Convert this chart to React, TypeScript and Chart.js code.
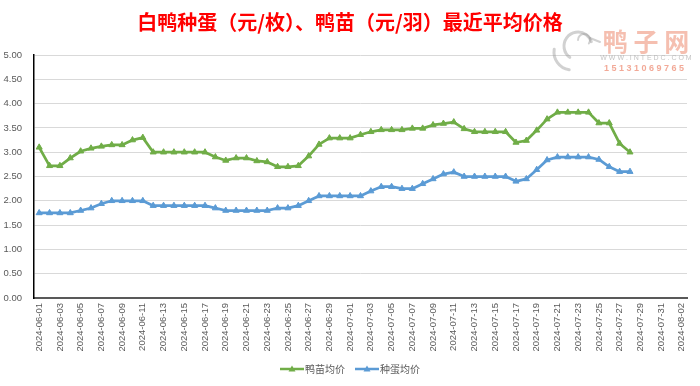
import React, { useEffect, useRef } from "react";
import { Chart, registerables } from "chart.js";

Chart.register(...registerables);

const TITLE = "白鸭种蛋（元/枚）、鸭苗（元/羽）最近平均价格";

const categories = [
  "2024-06-01", "2024-06-02", "2024-06-03", "2024-06-04", "2024-06-05", "2024-06-06", "2024-06-07", "2024-06-08",
  "2024-06-09", "2024-06-10", "2024-06-11", "2024-06-12", "2024-06-13", "2024-06-14", "2024-06-15", "2024-06-16",
  "2024-06-17", "2024-06-18", "2024-06-19", "2024-06-20", "2024-06-21", "2024-06-22", "2024-06-23", "2024-06-24",
  "2024-06-25", "2024-06-26", "2024-06-27", "2024-06-28", "2024-06-29", "2024-06-30",
  "2024-07-01", "2024-07-02", "2024-07-03", "2024-07-04", "2024-07-05", "2024-07-06", "2024-07-07", "2024-07-08",
  "2024-07-09", "2024-07-10", "2024-07-11", "2024-07-12", "2024-07-13", "2024-07-14", "2024-07-15", "2024-07-16",
  "2024-07-17", "2024-07-18", "2024-07-19", "2024-07-20", "2024-07-21", "2024-07-22", "2024-07-23", "2024-07-24",
  "2024-07-25", "2024-07-26", "2024-07-27", "2024-07-28", "2024-07-29", "2024-07-30", "2024-07-31",
  "2024-08-01", "2024-08-02",
];

const ducklingLabel = "鸭苗均价";
const ducklingPrice = [
  3.10, 2.72, 2.72, 2.88, 3.02, 3.08, 3.12, 3.15, 3.15, 3.25,
  3.30, 3.00, 3.00, 3.00, 3.00, 3.00, 3.00, 2.90, 2.83, 2.88,
  2.88, 2.82, 2.80, 2.70, 2.70, 2.72, 2.92, 3.16, 3.29, 3.29,
  3.29, 3.36, 3.42, 3.46, 3.46, 3.46, 3.49, 3.49, 3.56, 3.59,
  3.62, 3.48, 3.42, 3.42, 3.42, 3.42, 3.20, 3.24, 3.45, 3.68,
  3.82, 3.82, 3.82, 3.82, 3.60, 3.60, 3.18, 3.00,
];

const eggLabel = "种蛋均价";
const eggPrice = [
  1.75, 1.75, 1.75, 1.75, 1.80, 1.85, 1.94, 2.00, 2.00, 2.00,
  2.00, 1.90, 1.90, 1.90, 1.90, 1.90, 1.90, 1.85, 1.80, 1.80,
  1.80, 1.80, 1.80, 1.85, 1.85, 1.90, 2.00, 2.10, 2.10, 2.10,
  2.10, 2.10, 2.20, 2.29, 2.29, 2.25, 2.25, 2.35, 2.45, 2.55,
  2.59, 2.50, 2.50, 2.50, 2.50, 2.50, 2.40, 2.45, 2.64, 2.84,
  2.90, 2.90, 2.90, 2.90, 2.85, 2.70, 2.60, 2.60,
];

const GREEN = "#70ad47";
const BLUE = "#5b9bd5";
const TEXT = "#595959";
const CJK = '"Noto Sans CJK SC", "Noto Sans", sans-serif';
const NUM = '"Liberation Sans", Arial, sans-serif';

const titlePlugin = {
  id: "titleDraw",
  afterDraw(chart: any) {
    const ctx = chart.ctx;
    ctx.save();
    ctx.fillStyle = "#ff0000";
    ctx.font = `bold 20px ${CJK}`;
    ctx.textAlign = "center";
    ctx.textBaseline = "middle";
    ctx.fillText(TITLE, chart.width / 2, 22);
    ctx.restore();
  },
};

const watermarkPlugin = {
  id: "watermark",
  afterDraw(chart: any) {
    const ctx = chart.ctx;
    ctx.save();
    // faint duck logo
    ctx.globalAlpha = 0.45;
    ctx.strokeStyle = "#9a9a9a";
    ctx.lineWidth = 3;
    ctx.lineCap = "round";
    ctx.beginPath();
    ctx.arc(578, 46, 14, Math.PI * 0.7, Math.PI * 1.9);
    ctx.stroke();
    ctx.beginPath();
    ctx.arc(572, 52, 18, Math.PI * 0.55, Math.PI * 1.05);
    ctx.stroke();
    ctx.lineWidth = 2;
    ctx.beginPath();
    ctx.arc(584, 40, 6, Math.PI * 1.0, Math.PI * 2.2);
    ctx.stroke();
    ctx.beginPath();
    ctx.moveTo(590, 38);
    ctx.lineTo(600, 42);
    ctx.stroke();
    // text
    ctx.globalAlpha = 0.75;
    ctx.fillStyle = "#f2a995";
    ctx.font = `bold 25px ${CJK}`;
    ctx.textAlign = "center";
    ctx.textBaseline = "middle";
    ctx.fillText("鸭 子 网", 646, 41);
    ctx.font = `7px ${NUM}`;
    ctx.fillStyle = "#b0b0b0";
    ctx.fillText("W W W . I N T E D C . C O M", 646, 58);
    ctx.font = `bold 9px ${NUM}`;
    ctx.fillStyle = "#ee8c74";
    ctx.fillText("1 5 1 3 1 0 6 9 7 6 5", 644, 69);
    ctx.restore();
  },
};

const legendPlugin = {
  id: "legendDraw",
  afterDraw(chart: any) {
    const ctx = chart.ctx;
    ctx.save();
    ctx.font = `10px ${CJK}`;
    ctx.textBaseline = "middle";
    const lineW = 24;
    const gap = 10;
    const items = chart.data.datasets.map((d: any) => ({
      label: d.label,
      color: d.borderColor,
      w: lineW + 1 + ctx.measureText(d.label).width,
    }));
    const total = items.reduce((s: number, it: any) => s + it.w, 0) + gap * (items.length - 1);
    let x = chart.width / 2 - total / 2;
    const y = 369;
    items.forEach((it: any) => {
      ctx.strokeStyle = it.color;
      ctx.lineWidth = 2.5;
      ctx.beginPath();
      ctx.moveTo(x, y);
      ctx.lineTo(x + lineW, y);
      ctx.stroke();
      const cx = x + lineW / 2;
      ctx.fillStyle = it.color;
      ctx.beginPath();
      ctx.moveTo(cx, y - 3.5);
      ctx.lineTo(cx + 3.5, y + 2.5);
      ctx.lineTo(cx - 3.5, y + 2.5);
      ctx.closePath();
      ctx.fill();
      ctx.fillStyle = TEXT;
      ctx.textAlign = "left";
      ctx.fillText(it.label, x + lineW + 1, y);
      x += it.w + gap;
    });
    ctx.restore();
  },
};

export default function App() {
  const ref = useRef<HTMLCanvasElement>(null);
  useEffect(() => {
    document.body.style.margin = "0";
    const mk = (label: string, data: number[], color: string) => ({
      label,
      data,
      borderColor: color,
      backgroundColor: color,
      borderWidth: 2.75,
      borderJoinStyle: "round" as const,
      tension: 0,
      pointStyle: "triangle" as const,
      pointRadius: 3.5,
      pointBackgroundColor: color,
      pointBorderColor: color,
      pointBorderWidth: 1,
    });
    const chart = new Chart(ref.current!, {
      type: "line",
      data: {
        labels: categories,
        datasets: [mk(ducklingLabel, ducklingPrice, GREEN), mk(eggLabel, eggPrice, BLUE)],
      },
      options: {
        responsive: false,
        animation: false,
        layout: { padding: { top: 55, right: 13, left: 0, bottom: 0 } },
        plugins: {
          legend: { display: false },
          tooltip: { enabled: false },
          title: { display: false },
        },
        scales: {
          x: {
            type: "category",
            offset: true,
            grid: { display: false, drawTicks: false },
            border: { color: "#595959", width: 2 },
            ticks: {
              autoSkip: false,
              maxRotation: 90,
              minRotation: 90,
              padding: 5,
              color: TEXT,
              font: { family: NUM, size: 9.5 },
              callback: function (this: any, v: any, i: number) {
                return i % 2 === 0 ? this.getLabelForValue(v) : "";
              },
            },
            afterFit: (s: any) => {
              s.height = 88;
            },
          },
          y: {
            min: 0,
            max: 5,
            ticks: {
              stepSize: 0.5,
              padding: 12,
              color: TEXT,
              font: { family: NUM, size: 9.5 },
              callback: (v: any) => Number(v).toFixed(2),
            },
            grid: { color: "#d9d9d9", drawTicks: false },
            border: { color: "#000000", width: 1.5 },
            afterFit: (s: any) => {
              s.width = 34;
            },
          },
        },
      },
      plugins: [titlePlugin, legendPlugin, watermarkPlugin],
    });
    return () => chart.destroy();
  }, []);
  return (
    <div style={{ width: 700, height: 386, background: "#ffffff" }}>
      <canvas ref={ref} width={700} height={386} style={{ display: "block" }} />
    </div>
  );
}
